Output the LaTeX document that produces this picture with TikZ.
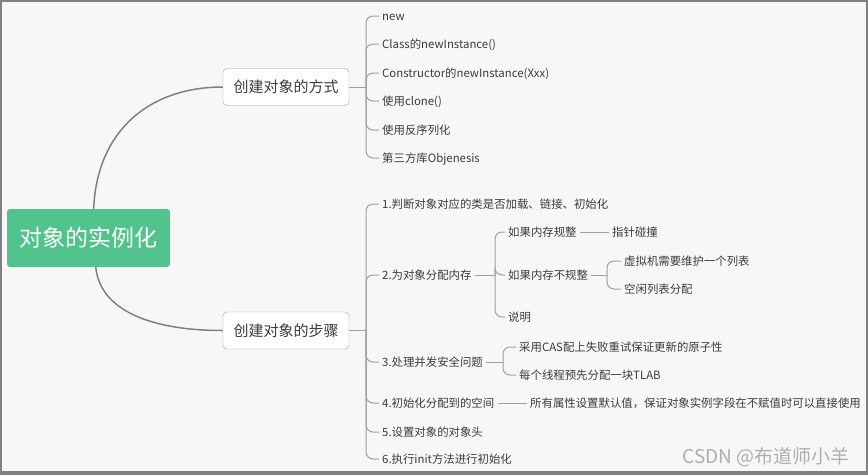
\documentclass[tikz,border=0pt]{standalone}
\usepackage{fontspec}
\setmainfont{Noto Sans CJK SC}
\usepackage{tikz}
\usetikzlibrary{positioning}
\usetikzlibrary{calc}

\definecolor{rootgreen}{RGB}{82,195,140}
\definecolor{framegray}{RGB}{128,128,128}
\definecolor{paper}{RGB}{247,247,247}
\definecolor{linegray}{RGB}{160,160,160}
\definecolor{limbgray}{RGB}{128,128,128}
\definecolor{textgray}{RGB}{60,60,60}
\definecolor{markgray}{RGB}{175,175,175}

\begin{document}
\begin{tikzpicture}[
    x=1pt,
    y=-1pt,
    font=\fontsize{11.4}{14}\selectfont,
    text=textgray
]
\tikzstyle{leaf}=[anchor=west, inner xsep=3pt, inner ysep=0pt, text height=9.2pt, text depth=0.6pt]
\tikzstyle{topic}=[rectangle, rounded corners=4pt, draw=linegray, fill=white, minimum width=126pt, minimum height=37pt, font=\fontsize{15}{18}\selectfont]
\tikzstyle{twig}=[draw=linegray, line width=1pt, rounded corners=7pt]
\tikzstyle{limb}=[draw=limbgray, line width=1.5pt]

% Frame
\fill[framegray] (0,0) rectangle (868,475);
\fill[paper] (2,2) rectangle (866,471);
\useasboundingbox (0,0) rectangle (868,475);

% Central topic
\node[fill=rootgreen, rounded corners=3pt, minimum width=163pt, minimum height=58pt, text=white, font=\fontsize{23}{26}\selectfont] (root) at (88.5,238) {对象的实例化};

% Main topics
\node[topic] (way) at (286,87) {创建对象的方式};
\node[topic] (step) at (286,330.5) {创建对象的步骤};

\draw[limb] (root.80) .. controls (97,130) and (150,87) .. (way.west);
\draw[limb] (root.-76) .. controls (100,310) and (150,330.5) .. (step.west);

% Ways
\coordinate (wj) at (366,87);
\node[leaf] (w1) at (379,16) {new};
\node[leaf] (w2) at (379,44) {Class的newInstance()};
\node[leaf] (w3) at (379,73) {Constructor的newInstance(Xxx)};
\node[leaf] (w4) at (379,101) {使用clone()};
\node[leaf] (w5) at (379,130) {使用反序列化};
\node[leaf] (w6) at (379,158) {第三方库Objenesis};

\draw[twig] (way.east) -- (wj);
\foreach \n in {w1,w2,w3,w4,w5,w6}
    \draw[twig] (wj) |- (\n.west);

% Steps
\coordinate (sj) at (366,330.5);
\node[leaf] (s1) at (379,204) {1.判断对象对应的类是否加载、链接、初始化};
\node[leaf] (s2) at (379,275) {2.为对象分配内存};
\node[leaf] (s3) at (379,362) {3.处理并发安全问题};
\node[leaf] (s4) at (379,403) {4.初始化分配到的空间};
\node[leaf] (s5) at (379,432) {5.设置对象的对象头};
\node[leaf] (s6) at (379,459) {6.执行init方法进行初始化};

\draw[twig] (step.east) -- (sj);
\foreach \n in {s1,s2,s3,s4,s5,s6}
    \draw[twig] (sj) |- (\n.west);

% Memory allocation
\coordinate (s2j) at (495,275);
\node[leaf] (m1) at (505,232) {如果内存规整};
\node[leaf] (m2) at (505,275) {如果内存不规整};
\node[leaf] (m3) at (505,317) {说明};
\node[leaf] (p1) at (609,232) {指针碰撞};

\draw[twig] (s2.east) -- (s2j);
\foreach \n in {m1,m2,m3}
    \draw[twig] (s2j) |- (\n.west);
\draw[twig] (m1.east) -- (p1.west);

\coordinate (m2j) at (607,275);
\node[leaf] (v1) at (621,261) {虚拟机需要维护一个列表};
\node[leaf] (v2) at (621,289) {空闲列表分配};

\draw[twig] (m2.east) -- (m2j);
\foreach \n in {v1,v2}
    \draw[twig] (m2j) |- (\n.west);

% Concurrency
\coordinate (s3j) at (503,362);
\node[leaf] (c1) at (516,347) {采用CAS配上失败重试保证更新的原子性};
\node[leaf] (c2) at (516,375) {每个线程预先分配一块TLAB};

\draw[twig] (s3.east) -- (s3j);
\foreach \n in {c1,c2}
    \draw[twig] (s3j) |- (\n.west);

% Zero values
\node[leaf] (d1) at (527,403) {所有属性设置默认值，保证对象实例字段在不赋值时可以直接使用};
\draw[twig] (s4.east) -- (d1.west);

% Watermark
\node[anchor=east, text=markgray, font=\fontsize{19}{22}\selectfont] (mark) at (853,457) {CSDN @布道师小羊};

\end{tikzpicture}
\end{document}
